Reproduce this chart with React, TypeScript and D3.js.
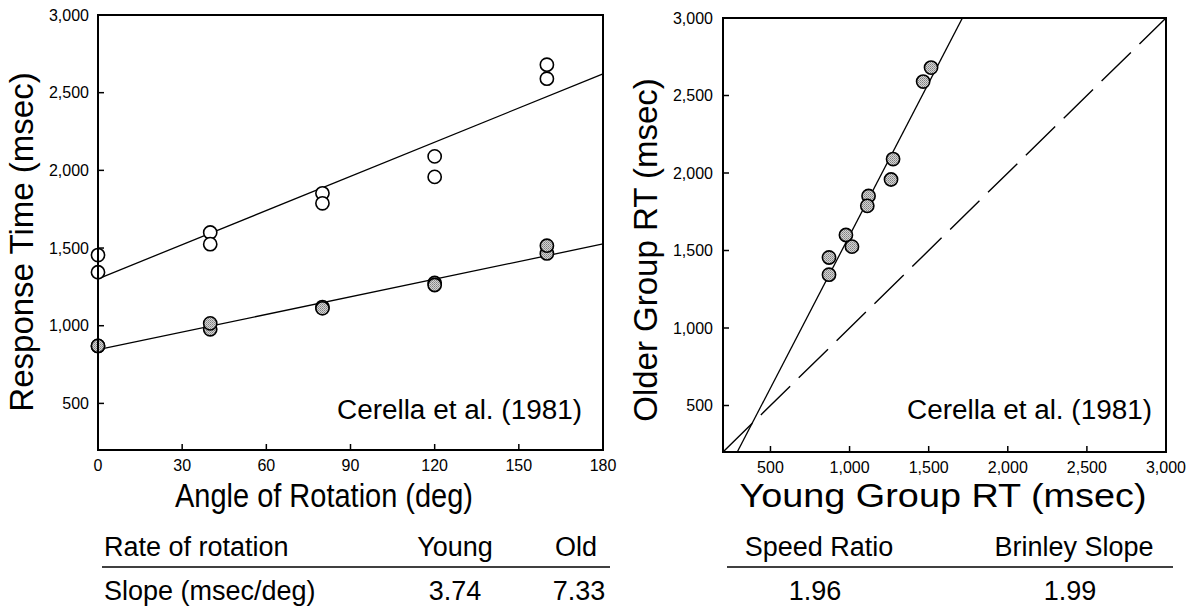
import * as d3 from "d3";
import React from "react";

// rotation angle (deg) for each condition, two stimuli per angle
const angles = [0, 0, 40, 40, 80, 80, 120, 120, 160, 160];
// mean RT (msec)
const youngRT = [870, 870, 977, 1015, 1120, 1112, 1275, 1262, 1465, 1515];
const olderRT = [1455, 1344, 1600, 1525, 1852, 1788, 2090, 1958, 2590, 2680];

const angleTicks = [0, 30, 60, 90, 120, 150, 180];
const rtTicks = [500, 1000, 1500, 2000, 2500, 3000];

const leftHeader = ["Rate of rotation", "Young", "Old"];
const leftRow = ["Slope (msec/deg)", "3.74", "7.33"];
const rightHeader = ["Speed Ratio", "Brinley Slope"];
const rightRow = ["1.96", "1.99"];

const FONT = "'Liberation Sans', Arial, Helvetica, sans-serif";
const fmt = d3.format(",");

function fit(xs: number[], ys: number[]) {
    const mx = d3.mean(xs)!;
    const my = d3.mean(ys)!;
    let sxy = 0, sxx = 0;
    xs.forEach((x, i) => {
        sxy += (x - mx) * (ys[i] - my);
        sxx += (x - mx) * (x - mx);
    });
    const b = sxy / sxx;
    return { slope: b, intercept: my - b * mx };
}

function Dot({ cx, cy, filled }: { cx: number; cy: number; filled: boolean }) {
    return (
        <circle cx={cx} cy={cy} r={6.6}
            fill={filled ? "url(#stip)" : "#fff"}
            stroke="#000" strokeWidth={1.6} />
    );
}

function LeftPanel() {
    const x = d3.scaleLinear().domain([0, 180]).range([98, 603]);
    const y = d3.scaleLinear().domain([200, 3000]).range([450, 15]);
    const fy = fit(angles, youngRT);
    const fo = fit(angles, olderRT);
    const [x0, x1] = x.domain();
    const line = (f: { slope: number; intercept: number }) =>
        d3.line()([[x(x0), y(f.intercept + f.slope * x0)], [x(x1), y(f.intercept + f.slope * x1)]])!;

    return (
        <g>
            <path d={line(fo)} stroke="#000" strokeWidth={1.3} fill="none" />
            <path d={line(fy)} stroke="#000" strokeWidth={1.3} fill="none" />
            {angles.map((a, i) => <Dot key={"o" + i} cx={x(a)} cy={y(olderRT[i])} filled={false} />)}
            {angles.map((a, i) => <Dot key={"y" + i} cx={x(a)} cy={y(youngRT[i])} filled={true} />)}
            <rect x={98} y={15} width={505} height={435} fill="none" stroke="#000" strokeWidth={2} />
            {angleTicks.map(t => (
                <g key={t}>
                    <line x1={x(t)} x2={x(t)} y1={450} y2={444} stroke="#000" strokeWidth={1.5} />
                    <text x={x(t)} y={471} textAnchor="middle" fontSize={16}>{t}</text>
                </g>
            ))}
            {rtTicks.map(t => (
                <g key={t}>
                    <line x1={98} x2={104} y1={y(t)} y2={y(t)} stroke="#000" strokeWidth={1.5} />
                    <text x={89} y={y(t)} dy="0.36em" textAnchor="end" fontSize={16}>{fmt(t)}</text>
                </g>
            ))}
            <text x={582} y={419} textAnchor="end" fontSize={27} textLength={245} lengthAdjust="spacingAndGlyphs">Cerella et al. (1981)</text>
            <text transform="translate(33,242) rotate(-90)" textAnchor="middle" fontSize={33}>Response Time (msec)</text>
            <text x={324} y={507} textAnchor="middle" fontSize={33} textLength={298} lengthAdjust="spacingAndGlyphs">Angle of Rotation (deg)</text>

            <text x={104} y={556} fontSize={27}>{leftHeader[0]}</text>
            <text x={455} y={556} textAnchor="middle" fontSize={27}>{leftHeader[1]}</text>
            <text x={576} y={556} textAnchor="middle" fontSize={27}>{leftHeader[2]}</text>
            <line x1={102} x2={610} y1={567} y2={567} stroke="#000" strokeWidth={1.6} />
            <text x={104} y={600} fontSize={27}>{leftRow[0]}</text>
            <text x={455} y={600} textAnchor="middle" fontSize={27}>{leftRow[1]}</text>
            <text x={579} y={600} textAnchor="middle" fontSize={27}>{leftRow[2]}</text>
        </g>
    );
}

function RightPanel() {
    const x = d3.scaleLinear().domain([200, 3000]).range([723, 1166]);
    const y = d3.scaleLinear().domain([200, 3000]).range([452, 18]);
    const fb = fit(youngRT, olderRT);
    const [lo, hi] = x.domain();
    const brinley = d3.line()([[x(lo), y(fb.intercept + fb.slope * lo)], [x(hi), y(fb.intercept + fb.slope * hi)]])!;
    const identity = d3.line()([[x(lo), y(lo)], [x(hi), y(hi)]])!;

    return (
        <g>
            <defs>
                <clipPath id="rclip"><rect x={723} y={18} width={443} height={434} /></clipPath>
            </defs>
            <path d={identity} stroke="#000" strokeWidth={1.4} fill="none" strokeDasharray="41,12" />
            <path d={brinley} clipPath="url(#rclip)" stroke="#000" strokeWidth={1.3} fill="none" />
            {youngRT.map((v, i) => <Dot key={i} cx={x(v)} cy={y(olderRT[i])} filled={true} />)}
            <rect x={723} y={18} width={443} height={434} fill="none" stroke="#000" strokeWidth={2} />
            {rtTicks.map(t => (
                <g key={"x" + t}>
                    <line x1={x(t)} x2={x(t)} y1={452} y2={446} stroke="#000" strokeWidth={1.5} />
                    <text x={x(t)} y={473} textAnchor="middle" fontSize={16}>{fmt(t)}</text>
                </g>
            ))}
            {rtTicks.map(t => (
                <g key={"y" + t}>
                    <line x1={723} x2={729} y1={y(t)} y2={y(t)} stroke="#000" strokeWidth={1.5} />
                    <text x={713} y={y(t)} dy="0.36em" textAnchor="end" fontSize={16}>{fmt(t)}</text>
                </g>
            ))}
            <text x={1152} y={419} textAnchor="end" fontSize={27} textLength={245} lengthAdjust="spacingAndGlyphs">Cerella et al. (1981)</text>
            <text transform="translate(657,250) rotate(-90)" textAnchor="middle" fontSize={33}>Older Group RT (msec)</text>
            <text x={943} y={507} textAnchor="middle" fontSize={33} textLength={407} lengthAdjust="spacingAndGlyphs">Young Group RT (msec)</text>

            <text x={819} y={556} textAnchor="middle" fontSize={27}>{rightHeader[0]}</text>
            <text x={1074} y={556} textAnchor="middle" fontSize={27}>{rightHeader[1]}</text>
            <line x1={727} x2={1173} y1={567} y2={567} stroke="#000" strokeWidth={1.6} />
            <text x={815} y={600} textAnchor="middle" fontSize={27}>{rightRow[0]}</text>
            <text x={1070} y={600} textAnchor="middle" fontSize={27}>{rightRow[1]}</text>
        </g>
    );
}

export default function App() {
    return (
        <svg width={1199} height={606} fontFamily={FONT}
            style={{ position: "absolute", left: 0, top: 0, display: "block", background: "#fff" }}>
            <defs>
                <pattern id="stip" width={2} height={2} patternUnits="userSpaceOnUse">
                    <rect width={2} height={2} fill="#d4d4d4" />
                    <rect width={1} height={1} fill="#808080" />
                    <rect x={1} y={1} width={1} height={1} fill="#9a9a9a" />
                </pattern>
            </defs>
            <LeftPanel />
            <RightPanel />
        </svg>
    );
}
